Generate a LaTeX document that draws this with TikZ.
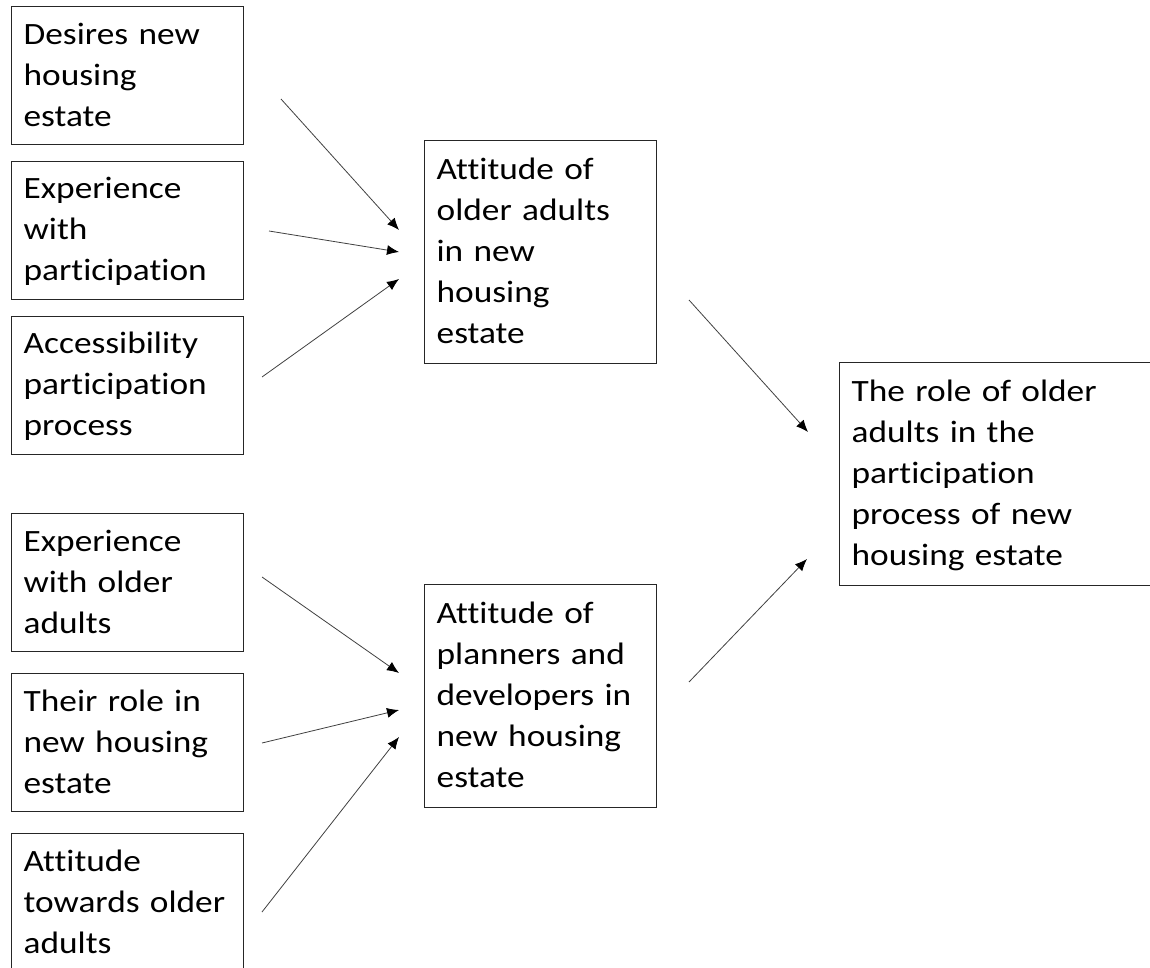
\documentclass[tikz,border=0pt]{standalone}
\usepackage{fontspec}
\setmainfont{Carlito}[FakeStretch=1.14, Ligatures=NoCommon]
\usepackage{tikz}
\usetikzlibrary{positioning,arrows.meta}

\begin{document}
\begin{tikzpicture}[x=1pt, y=-1pt, >={Latex[length=12pt,width=10pt,color=black]},
  box/.style={draw=black!85, line width=1.3pt, anchor=north west, align=left, text width=208pt,
    inner xsep=12pt, inner ysep=0pt, minimum height=138pt, text height=20pt, text depth=83pt,
    font=\fontsize{31}{41}\selectfont},
  bigbox/.style={box, minimum height=223pt, text depth=165pt},
  link/.style={->, line width=0.8pt, draw=black!75}]
  \useasboundingbox (0,0) rectangle (1150,968);
  \clip (0,0) rectangle (1150,968);
  \node[box] (Factor-1) at (11,6) {Desires new\\housing\\estate};  % Older adults
  \node[box, below=15.5pt of Factor-1] (Factor-2) {Experience\\with\\participation};
  \node[box, below=15.5pt of Factor-2] (Factor-3) {Accessibility\\participation\\process};
  \node[box, below=58pt of Factor-3] (Factor-4) {Experience\\with older\\adults};  % Planners and developers
  \node[box, below=20.7pt of Factor-4] (Factor-5) {Their role in\\new housing\\estate};
  \node[box, below=20.7pt of Factor-5] (Factor-6) {Attitude\\towards older\\adults};
  \node[bigbox] (Attitude-1) at (424,140) {Attitude of\\older adults\\in new\\housing\\estate};  % Attitudes
  \node[bigbox] (Attitude-2) at (424,584) {Attitude of\\planners and\\developers in\\new housing\\estate};
  \node[bigbox, text width=300pt] (Role) at (839,362) {The role of older\\adults in the\\participation\\process of new\\housing estate};  % Outcome
  \coordinate (Tail-1) at (281,99);  \coordinate (Head-1) at (399,230);  % Arrow ends
  \coordinate (Tail-2) at (269,231); \coordinate (Head-2) at (399,252);
  \coordinate (Tail-3) at (262,377); \coordinate (Head-3) at (399,279);
  \coordinate (Tail-4) at (262,577); \coordinate (Head-4) at (399,673);
  \coordinate (Tail-5) at (262,743); \coordinate (Head-5) at (399,710);
  \coordinate (Tail-6) at (262,912); \coordinate (Head-6) at (399,737);
  \coordinate (Tail-7) at (689,300); \coordinate (Head-7) at (808,432);
  \coordinate (Tail-8) at (689,682); \coordinate (Head-8) at (807,559);
  \foreach \i in {1,...,8}
    \draw[link] (Tail-\i) -- (Head-\i);  % Connect boxes
\end{tikzpicture}
\end{document}
